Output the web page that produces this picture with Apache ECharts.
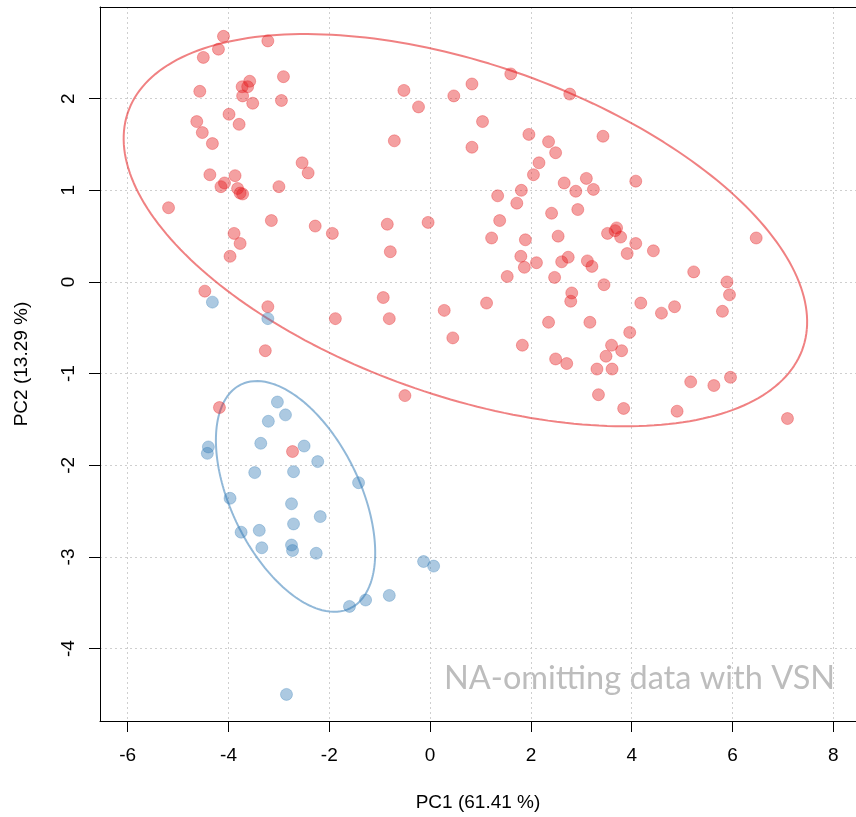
<!DOCTYPE html>
<html><head><meta charset="utf-8">
<script src="https://cdn.jsdelivr.net/npm/echarts@6/dist/echarts.min.js"></script>
<style>html,body{margin:0;padding:0;background:#fff;overflow:hidden}#c{width:856px;height:817px}</style>
</head><body><div id="c"></div>
<script>
const xTicks = [-6, -4, -2, 0, 2, 4, 6, 8];
const yTicks = [-4, -3, -2, -1, 0, 1, 2];
const xLabel = 'PC1 (61.41 %)';
const yLabel = 'PC2 (13.29 %)';
const note = 'NA-omitting data with VSN';

const redPoints = [
  [-4.10,2.68],[-3.22,2.63],[-4.20,2.54],[-4.50,2.45],[-2.91,2.24],[-3.58,2.19],[-3.73,2.13],[-3.62,2.13],
  [-4.57,2.08],[-3.72,2.03],[-2.95,1.98],[-3.52,1.95],[-3.99,1.83],[-4.63,1.75],[-3.79,1.72],[-4.52,1.63],
  [-4.32,1.51],[-2.54,1.30],[-2.42,1.19],[-4.37,1.17],[-3.87,1.16],[-4.15,1.04],[-4.08,1.08],[-3.00,1.04],
  [-3.82,1.02],[-3.77,0.97],[-3.72,0.96],[-5.19,0.81],[-3.15,0.67],[-2.28,0.61],[-1.94,0.53],[-3.89,0.53],
  [-3.77,0.42],[-3.97,0.28],[-4.47,-0.10],[-3.22,-0.27],[-1.88,-0.40],[-3.27,-0.75],[-4.18,-1.37],[-2.73,-1.85],
  [-0.50,-1.24],
  [1.60,2.27],[0.83,2.16],[-0.52,2.09],[0.47,2.03],[-0.23,1.91],[1.04,1.75],[1.96,1.61],[-0.71,1.54],
  [0.83,1.47],[2.16,1.30],[2.05,1.17],[1.81,1.00],[1.34,0.94],[1.72,0.86],[1.38,0.67],[-0.85,0.63],
  [-0.04,0.65],[1.22,0.48],[1.89,0.46],
  [2.77,2.05],[3.43,1.59],[2.35,1.53],[2.49,1.41],[2.66,1.08],[3.10,1.13],[3.24,1.01],[2.89,0.99],
  [4.08,1.10],[2.41,0.75],[2.93,0.79],[2.54,0.50],[3.70,0.59],[3.52,0.53],[3.67,0.56],[3.78,0.49],
  [4.08,0.42],[4.43,0.34],[6.47,0.48],[3.91,0.31],
  [2.61,0.22],[2.74,0.27],[3.12,0.23],[3.21,0.17],[2.47,0.05],[3.45,-0.03],[5.23,0.11],[5.89,0.00],
  [5.94,-0.14],[2.81,-0.12],[2.79,-0.21],[4.18,-0.23],[4.85,-0.27],[4.59,-0.34],[5.80,-0.32],[2.35,-0.44],
  [3.17,-0.44],[3.96,-0.55],[3.60,-0.69],[3.80,-0.75],[3.49,-0.81],[2.49,-0.84],[2.71,-0.89],[3.31,-0.95],
  [3.61,-0.95],[5.17,-1.09],[5.63,-1.13],[5.96,-1.04],[3.34,-1.23],[3.84,-1.38],[4.90,-1.41],[7.09,-1.49],
  [-0.79,0.33],[-0.93,-0.17],[-0.81,-0.40],[0.28,-0.31],[0.45,-0.61],[1.12,-0.23],[1.53,0.06],[1.80,0.28],
  [1.87,0.16],[2.11,0.21],[1.83,-0.69]
];

const bluePoints = [
  [-3.03,-1.31],[-2.87,-1.45],[-3.21,-1.52],[-3.36,-1.76],[-2.50,-1.79],[-2.23,-1.96],[-4.40,-1.80],[-4.42,-1.87],
  [-3.48,-2.08],[-2.71,-2.07],[-1.42,-2.19],[-3.97,-2.36],[-2.75,-2.42],[-2.18,-2.56],[-2.71,-2.64],[-3.39,-2.71],
  [-3.75,-2.73],[-3.34,-2.90],[-2.75,-2.87],[-2.73,-2.93],[-2.26,-2.96],[-0.13,-3.05],[0.07,-3.10],[-0.81,-3.42],
  [-1.28,-3.47],[-1.60,-3.54],[-2.85,-4.50],[-4.32,-0.22],[-3.22,-0.40]
];

// confidence ellipses (center, semi-axes, rotation in data units)
const redEllipseCenter = [0.70, 0.565];
const redEllipseAxes = [6.86, 1.87];
const redEllipseAngle = -9.07;
const blueEllipseCenter = [-2.67, -2.34];
const blueEllipseAxes = [1.764, 0.985];
const blueEllipseAngle = -32.4;

function ellipse(c, ax, angDeg) {
  const th = angDeg * Math.PI / 180, out = [];
  const n = 240;
  for (let i = 0; i <= n; i++) {
    const t = 2 * Math.PI * i / n;
    const dx = ax[0] * Math.cos(t), dy = ax[1] * Math.sin(t);
    out.push([c[0] + dx * Math.cos(th) - dy * Math.sin(th), c[1] + dx * Math.sin(th) + dy * Math.cos(th)]);
  }
  return out;
}

const font = 'Liberation Sans, Arial, sans-serif';
const X_MIN = -6.55, X_MAX = 8.45;
const chart = echarts.init(document.getElementById('c'));
chart.setOption({
  animation: false,
  backgroundColor: '#fff',
  grid: { left: 100, right: 0, top: 7, bottom: 96, show: false, containLabel: false },
  xAxis: [{
    type: 'value', min: X_MIN, max: X_MAX, position: 'bottom',
    axisLine: { show: true, onZero: false, lineStyle: { color: '#000', width: 1 } },
    axisTick: { show: true, length: 11, customValues: xTicks, lineStyle: { color: '#000' } },
    axisLabel: { customValues: xTicks, margin: 25, fontSize: 19, color: '#000', fontFamily: font },
    splitLine: { show: true, lineStyle: { type: [2, 3], color: '#cfcfcf', width: 1 } },
    name: xLabel, nameLocation: 'middle', nameGap: 72,
    nameTextStyle: { fontSize: 19, color: '#000', fontFamily: font }
  }, {
    type: 'value', min: X_MIN, max: X_MAX, position: 'top',
    axisLine: { show: true, onZero: false, lineStyle: { color: '#000', width: 1 } },
    axisTick: { show: false }, axisLabel: { show: false }, splitLine: { show: false }
  }],
  yAxis: {
    type: 'value', min: -4.79, max: 3.0,
    axisLine: { show: true, onZero: false, lineStyle: { color: '#000', width: 1 } },
    axisTick: { show: true, length: 11, customValues: yTicks, lineStyle: { color: '#000' } },
    axisLabel: { customValues: yTicks, margin: 22, rotate: 90, fontSize: 19, color: '#000', fontFamily: font },
    splitLine: { show: true, lineStyle: { type: [2, 3], color: '#cfcfcf', width: 1 } },
    name: yLabel, nameLocation: 'middle', nameGap: 69,
    nameTextStyle: { fontSize: 19, color: '#000', fontFamily: font }
  },
  graphic: [{
    type: 'text', left: 444, top: 662, silent: true,
    style: { text: note, fontSize: 32.5, fontFamily: 'Lato, sans-serif', fill: '#bdbdbd' }
  }],
  series: [
    { type: 'line', data: ellipse(redEllipseCenter, redEllipseAxes, redEllipseAngle), showSymbol: false, symbol: 'none',
      lineStyle: { color: 'rgba(228,26,28,0.55)', width: 2 }, silent: true, z: 1 },
    { type: 'line', data: ellipse(blueEllipseCenter, blueEllipseAxes, blueEllipseAngle), showSymbol: false, symbol: 'none',
      lineStyle: { color: 'rgba(55,126,184,0.55)', width: 2 }, silent: true, z: 1 },
    { type: 'scatter', data: redPoints, symbolSize: 12, z: 2,
      itemStyle: { color: 'rgba(228,26,28,0.52)', borderColor: 'rgba(228,26,28,0.4)', borderWidth: 1 } },
    { type: 'scatter', data: bluePoints, symbolSize: 12, z: 2,
      itemStyle: { color: 'rgba(55,126,184,0.52)', borderColor: 'rgba(55,126,184,0.4)', borderWidth: 1 } }
  ]
});
</script></body></html>
